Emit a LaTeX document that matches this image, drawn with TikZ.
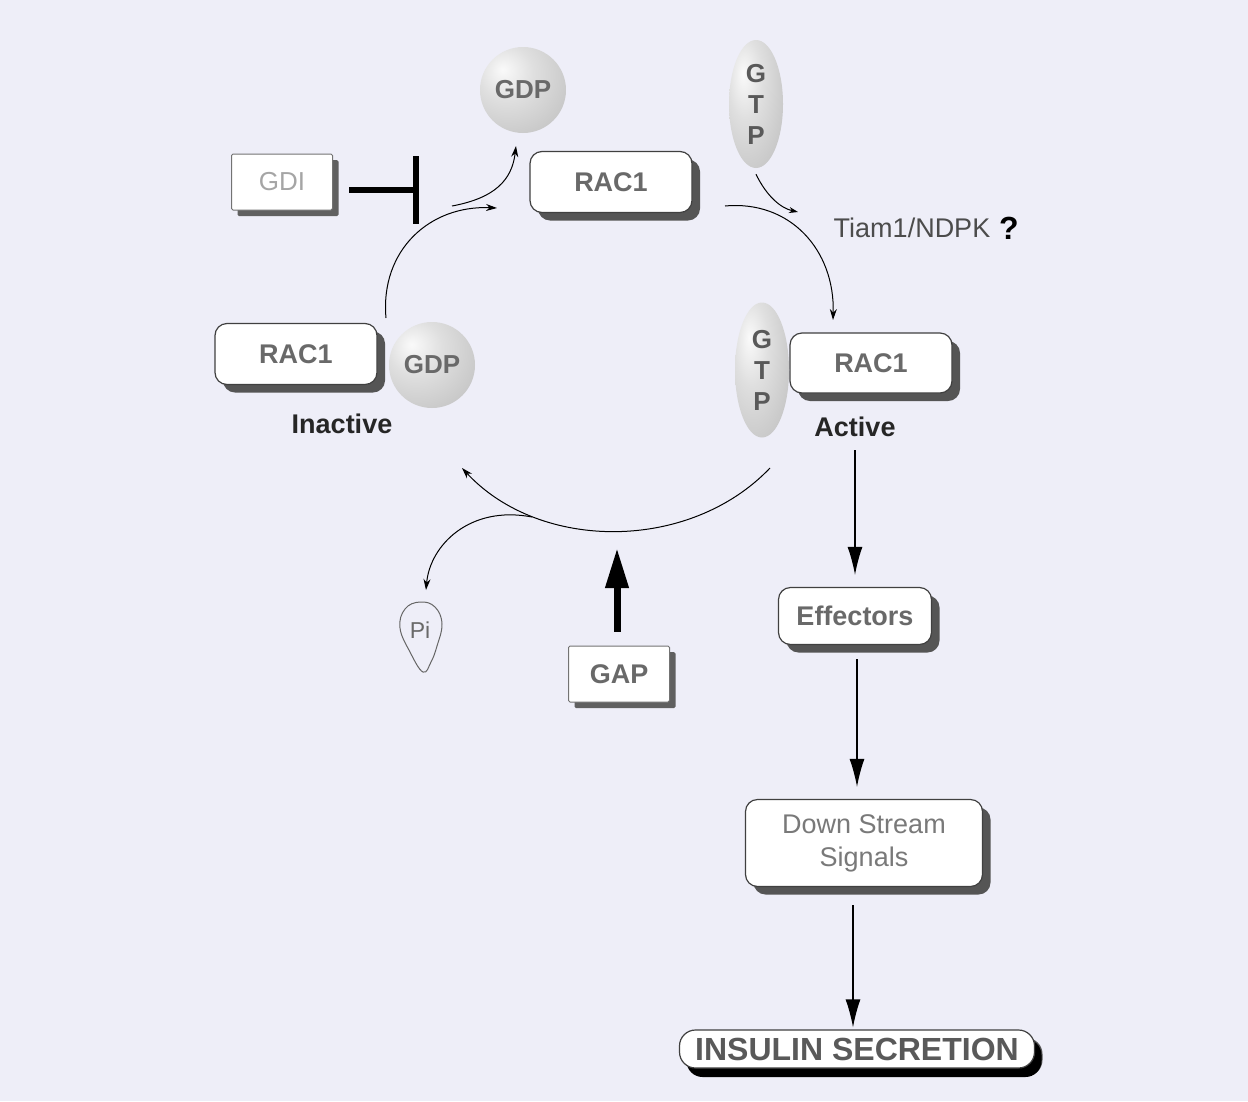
\documentclass[tikz,border=0pt]{standalone}
\usepackage{fontspec}
\setmainfont{Liberation Sans}
\usetikzlibrary{shapes.geometric,shadows,arrows.meta}

\definecolor{bglav}{RGB}{238,238,248}
\definecolor{txtgray}{RGB}{105,105,105}
\definecolor{gdigray}{RGB}{165,165,165}
\definecolor{shadegray}{RGB}{85,85,85}
\pgfdeclareradialshading{sphere}{\pgfpoint{-12bp}{12bp}}{%
  color(0bp)=(gray!4); color(16bp)=(gray!25); color(38bp)=(gray!45);
  color(62bp)=(gray!58); color(100bp)=(gray!58)}

\tikzset{
  protbox/.style={draw=black!75, line width=1.2pt, fill=white, rounded corners=12pt,
    minimum width=162pt, minimum height=61pt, text=txtgray,
    font=\fontsize{27}{32}\selectfont\bfseries,
    drop shadow={shadow xshift=8pt, shadow yshift=-8pt, fill=shadegray, opacity=1}},
  sqbox/.style={draw=black!55, line width=1pt, fill=white, rounded corners=1.5pt,
    minimum width=101pt, minimum height=56pt, text=txtgray,
    font=\fontsize{27}{32}\selectfont\bfseries,
    drop shadow={shadow xshift=6pt, shadow yshift=-6pt, fill=gray!75!black, opacity=1}},
  gdpball/.style={circle, minimum size=86pt, inner sep=0pt, shading=sphere, text=txtgray,
    font=\fontsize{26}{30}\selectfont\bfseries},
  gtpegg/.style={ellipse, minimum width=54pt, minimum height=128pt, inner sep=0pt,
    shading=sphere, align=center, text=black!65,
    font=\fontsize{26}{31}\selectfont\bfseries},
  statelabel/.style={font=\fontsize{27}{32}\selectfont\bfseries, text=black!85},
  cyclearrow/.style={-{Stealth[length=11pt,width=7pt]}, line width=1pt},
  flowarrow/.style={-{Latex[length=28pt,width=15pt]}, line width=1.3pt},
}

\begin{document}
\begin{tikzpicture}[x=1pt,y=-1pt]
\fill[bglav] (0,0) rectangle (1248,1101);
\useasboundingbox (0,0) rectangle (1248,1101);

% free GDP and GTP
\node[gdpball] (gdpfree) at (523,90) {GDP};
\node[gtpegg] (gtpfree) at (756,104) {G\\T\\P};

% top of the cycle
\node[sqbox, text=gdigray, font=\fontsize{26}{30}\selectfont] (gdi) at (282,182) {GDI};
\node[protbox] (racmid) at (611,182) {RAC1};
\coordinate (gdibar) at (419,190);
\draw[line width=6pt, -{Bar[width=68pt]}, shorten <=16pt] ([yshift=-8pt]gdi.east) -- (gdibar);

% inactive form
\node[protbox] (racoff) at (296,354) {RAC1};
\node[gdpball] (gdpoff) at (432,365) {GDP};
\node[statelabel] (inactive) at (342,424) {Inactive};

% active form
\node[protbox, minimum height=60pt] (racon) at (871,363) {RAC1};
\node[gtpegg, minimum height=135pt] (gtpon) at (762,370) {G\\T\\P};
\node[statelabel] (active) at (855,427) {Active};

\node[font=\fontsize{27}{32}\selectfont, text=black!70] (tiam) at (912,228) {Tiam1/NDPK};
\node[font=\fontsize{32}{36}\selectfont\bfseries, anchor=west, inner sep=1pt] (query) at ([xshift=4pt]tiam.east) {?};

% cycle arcs
\coordinate (upL) at (386,318);
\coordinate (upR) at (497,208);
\coordinate (gdpsplit) at (452,206);
\coordinate (gdptip) at (516,146);
\draw[cyclearrow] (upL) .. controls (380,250) and (430,205) .. (upR);
\draw[cyclearrow] (gdpsplit) .. controls (495,198) and (512,180) .. (gdptip);

\coordinate (dnL) at (725,206);
\coordinate (dnR) at (833,320);
\coordinate (gtpjoin) at (798,212);
\draw[cyclearrow] (dnL) .. controls (790,200) and (835,250) .. (dnR);
\draw[cyclearrow, -{Stealth[length=9pt,width=6pt]}] ([yshift=-6pt]gtpfree.south) .. controls (766,195) and (780,208) .. (gtpjoin);

\coordinate (lowR) at (770,468);
\coordinate (lowL) at (462,468);
\coordinate (pisplit) at (532,517);
\coordinate (pitip) at (426,590);
\draw[cyclearrow] (lowR) .. controls (690,552) and (540,552) .. (lowL);
\draw[cyclearrow] (pisplit) .. controls (470,505) and (430,545) .. (pitip);

% Pi
\draw[black!60, line width=1pt] plot[smooth cycle, tension=0.7] coordinates
  {(423,672) (410,652) (400,628) (405,609) (420,602) (435,607) (442,624) (437,646) (431,662)};
\node[text=txtgray, font=\fontsize{23}{28}\selectfont] (pi) at (420,630) {Pi};

% GAP
\node[sqbox] (gap) at (619,674) {GAP};
\coordinate (gaptip) at (617,548);
\draw[line width=7pt, -{Triangle[length=40pt,width=22pt]}, shorten <=14pt] (gap.north -| gaptip) -- (gaptip);

% downstream
\node[protbox, minimum width=153pt, minimum height=57pt] (effect) at (855,616) {Effectors};
\node[protbox, minimum width=237pt, minimum height=87pt, align=center,
  font=\fontsize{27}{33}\selectfont, text=gray!95!black] (dstream) at (864,843) {Down Stream\\Signals};
\node[protbox, minimum width=355pt, minimum height=38pt, rounded corners=16pt, inner sep=2pt,
  text=black!65, font=\fontsize{32}{36}\selectfont\bfseries,
  drop shadow={shadow xshift=7pt, shadow yshift=-9pt, fill=black, opacity=1}] (insulin) at (857,1049) {INSULIN SECRETION};

\draw[flowarrow, shorten <=10pt, shorten >=12pt] (active.south) -- (active.south |- effect.north);
\draw[flowarrow, shorten <=14pt, shorten >=12pt] ([xshift=2pt]effect.south) -- ([xshift=2pt]effect.south |- dstream.north);
\draw[flowarrow, shorten <=18pt, shorten >=2pt] ([xshift=-11pt]dstream.south) -- ([xshift=-11pt]dstream.south |- insulin.north);

\end{tikzpicture}
\end{document}
